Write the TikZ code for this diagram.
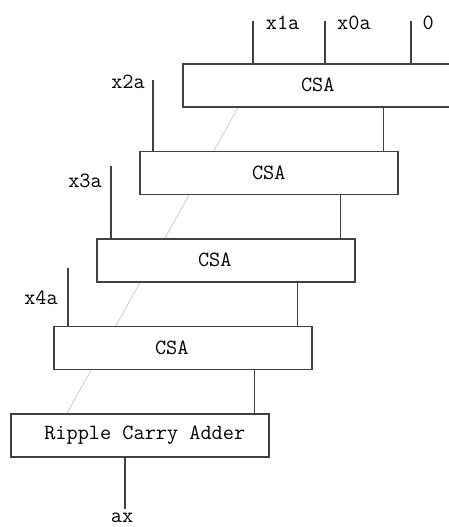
\documentclass[tikz,border=0pt]{standalone}
\usepackage{tikz}
\usetikzlibrary{positioning, calc, backgrounds}

\tikzset{
csa/.style={rectangle, draw=black!75, line width=1.3pt, fill=white, minimum width=7.74cm, minimum height=1.29cm, inner sep=0pt, font=\ttfamily\fontsize{18.5}{20}\selectfont},
wire/.style={draw=black!75, line width=1.3pt},
lbl/.style={inner sep=0pt, font=\ttfamily\fontsize{18.5}{20}\selectfont}
}

\begin{document}
\begin{tikzpicture}
\useasboundingbox (0,0) rectangle (13.44,-15.81);
\node[csa, minimum width=8.1cm, anchor=north west](csa1) at (5.46,-1.89){CSA};
\node[csa, below=1.29cm of csa1.south west, anchor=north west, xshift=-1.29cm](csa2){CSA};
\node[csa, below=1.29cm of csa2.south west, anchor=north west, xshift=-1.29cm](csa3){CSA\hspace*{0.66cm}};
\node[csa, below=1.29cm of csa3.south west, anchor=north west, xshift=-1.29cm](csa4){CSA\hspace*{0.66cm}};
\node[csa, below=1.29cm of csa4.south west, anchor=north west, xshift=-1.29cm](rca){\hspace*{0.3cm}Ripple Carry Adder};
\begin{scope}[on background layer]
\draw[black!25, line width=0.5pt] ([xshift=1.68cm]csa1.south west) -- ([xshift=1.71cm]rca.north west);
\end{scope}
\coordinate(x1a) at ($(csa1.north west)+(2.13,1.26)$);
\coordinate(x0a) at ($(csa1.north west)+(4.29,1.26)$);
\coordinate(zero) at ($(csa1.north west)+(6.87,1.26)$);
\coordinate(x2a) at ($(csa2.north west)+(0.42,2.13)$);
\coordinate(x3a) at ($(csa3.north west)+(0.45,2.16)$);
\coordinate(x4a) at ($(csa4.north west)+(0.45,1.74)$);
\draw[wire] (x1a) -- (x1a |- csa1.north);
\draw[wire] (x0a) -- (x0a |- csa1.north);
\draw[wire] (zero) -- (zero |- csa1.north);
\draw[wire] (x2a) -- (x2a |- csa2.north);
\draw[wire] (x3a) -- (x3a |- csa3.north);
\draw[wire] (x4a) -- (x4a |- csa4.north);
\node[lbl, right=0.38cm of x1a, yshift=-0.06cm](x1alabel){x1a};
\node[lbl, right=0.36cm of x0a, yshift=-0.06cm](x0alabel){x0a};
\node[lbl, right=0.34cm of zero, yshift=-0.06cm](zerolabel){0};
\node[lbl, left=0.24cm of x2a, yshift=-0.06cm](x2alabel){x2a};
\node[lbl, left=0.27cm of x3a, yshift=-0.45cm](x3alabel){x3a};
\node[lbl, left=0.3cm of x4a, yshift=-0.9cm](x4alabel){x4a};
\coordinate(s12) at ([xshift=-0.45cm]csa2.north east);
\coordinate(s23) at ([xshift=-0.45cm]csa3.north east);
\coordinate(s34) at ([xshift=-0.45cm]csa4.north east);
\coordinate(s4r) at ([xshift=-0.45cm]rca.north east);
\draw[wire] (s12 |- csa1.south) -- (s12);
\draw[wire] (s23 |- csa2.south) -- (s23);
\draw[wire] (s34 |- csa3.south) -- (s34);
\draw[wire] (s4r |- csa4.south) -- (s4r);
\coordinate(ax) at ($(rca.south west)+(3.45,-1.55)$);
\draw[wire] (ax |- rca.south) -- (ax);
\node[lbl, below=0.1cm of ax, xshift=-0.09cm](axlabel){ax};
\end{tikzpicture}
\end{document}
